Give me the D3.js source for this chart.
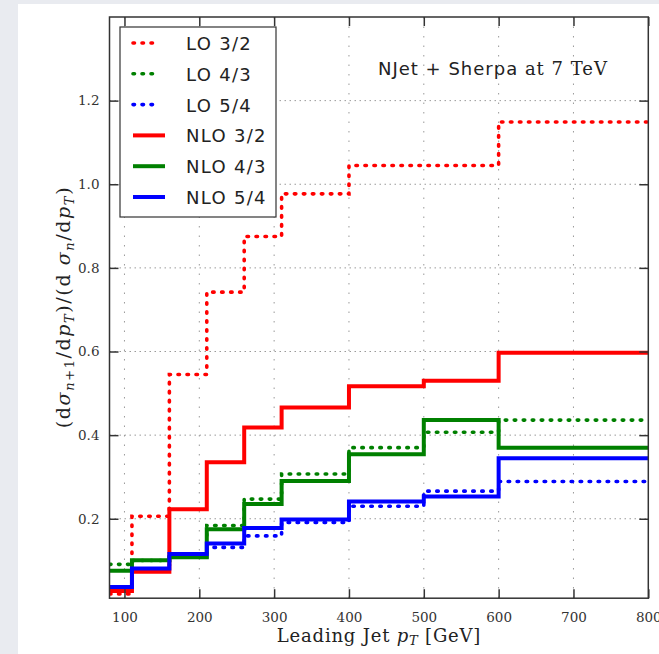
<!DOCTYPE html>
<html>
<head>
<meta charset="utf-8">
<script src="https://cdnjs.cloudflare.com/ajax/libs/d3/7.8.5/d3.min.js"></script>
<style>
  body { margin: 0; background: #e9ebf0; }
  svg { display: block; }
</style>
</head>
<body>
<script>
// bin edges in leading jet pT (GeV)
const edges = [80, 110, 160, 210, 260, 310, 400, 500, 600, 800];
// ratios per bin
const lo32  = [0.020, 0.206, 0.545, 0.742, 0.875, 0.977, 1.045, 1.045, 1.149];
const lo43  = [0.091, 0.100, 0.108, 0.184, 0.247, 0.307, 0.370, 0.407, 0.436];
const lo54  = [0.037, 0.080, 0.109, 0.1315, 0.159, 0.191, 0.230, 0.266, 0.289];
const nlo32 = [0.027, 0.073, 0.223, 0.335, 0.418, 0.466, 0.517, 0.530, 0.597];
const nlo43 = [0.0756, 0.101, 0.108, 0.175, 0.235, 0.290, 0.354, 0.436, 0.370];
const nlo54 = [0.037, 0.081, 0.1155, 0.141, 0.178, 0.1985, 0.241, 0.253, 0.345];

const xTicks = [100, 200, 300, 400, 500, 600, 700, 800];
const yTicks = [0.2, 0.4, 0.6, 0.8, 1.0, 1.2];

const series = [
  {name: "LO 3/2",  vals: lo32,  color: "#ff0000", dotted: true},
  {name: "LO 4/3",  vals: lo43,  color: "#008000", dotted: true},
  {name: "LO 5/4",  vals: lo54,  color: "#0000ff", dotted: true},
  {name: "NLO 3/2", vals: nlo32, color: "#ff0000", dotted: false},
  {name: "NLO 4/3", vals: nlo43, color: "#008000", dotted: false},
  {name: "NLO 5/4", vals: nlo54, color: "#0000ff", dotted: false}
];

let svgWidth = 659, svgHeight = 654;
let plotL = 109.5, plotR = 648.3, plotT = 17, plotB = 598.2;

var svg = d3.select("body").append("svg")
  .attr("width", svgWidth)
  .attr("height", svgHeight);

// white panel
svg.append("rect")
  .attr("x", 18).attr("y", 4)
  .attr("width", svgWidth - 18).attr("height", svgHeight - 4)
  .attr("fill", "#ffffff");

var x = d3.scaleLinear().domain([80, 800]).range([plotL, plotR]);
var y = d3.scaleLinear().domain([0.01, 1.4]).range([plotB, plotT]);

svg.append("clipPath").attr("id", "clip")
  .append("rect")
  .attr("x", plotL).attr("y", plotT)
  .attr("width", plotR - plotL).attr("height", plotB - plotT);

// grid
svg.append("g").selectAll("line")
  .data(xTicks.filter(d => d < 800))
  .enter().append("line")
  .attr("x1", d => x(d)).attr("x2", d => x(d))
  .attr("y1", plotT).attr("y2", plotB)
  .attr("stroke", "#9a9a9a").attr("stroke-width", 1)
  .attr("stroke-dasharray", "1.5,8");

svg.append("g").selectAll("line")
  .data(yTicks)
  .enter().append("line")
  .attr("x1", plotL).attr("x2", plotR)
  .attr("y1", d => y(d)).attr("y2", d => y(d))
  .attr("stroke", "#9a9a9a").attr("stroke-width", 1)
  .attr("stroke-dasharray", "1.5,3.5");

// step lines
var stepLine = d3.line()
  .x(d => x(d[0]))
  .y(d => y(d[1]))
  .curve(d3.curveStepAfter);

var lines = svg.append("g").attr("clip-path", "url(#clip)");
series.forEach(function(s) {
  var pts = edges.map((e, i) => [e, s.vals[Math.min(i, s.vals.length - 1)]]);
  lines.append("path")
    .datum(pts)
    .attr("d", stepLine)
    .attr("fill", "none")
    .attr("stroke", s.color)
    .attr("stroke-width", s.dotted ? 3.6 : 4)
    .attr("stroke-linecap", s.dotted ? "round" : "butt")
    .attr("stroke-dasharray", s.dotted ? "1.5,7.5" : null);
});

// frame
svg.append("rect")
  .attr("x", plotL).attr("y", plotT)
  .attr("width", plotR - plotL).attr("height", plotB - plotT)
  .attr("fill", "none").attr("stroke", "#333").attr("stroke-width", 1.5);

// ticks (inside, all four sides)
var bottomAxis = d3.axisBottom(x).tickValues(xTicks).tickSize(-9).tickPadding(14);
var topAxis = d3.axisTop(x).tickValues(xTicks).tickSize(-9).tickFormat("");
var leftAxis = d3.axisLeft(y).tickValues(yTicks).tickSize(-9).tickPadding(10).tickFormat(d3.format(".1f"));
var rightAxis = d3.axisRight(y).tickValues(yTicks).tickSize(-9).tickFormat("");

function styleAxis(g) {
  g.select(".domain").remove();
  g.selectAll(".tick line").attr("stroke", "#333").attr("stroke-width", 1.5);
  g.selectAll(".tick text")
    .attr("fill", "#333")
    .attr("font-family", "DejaVu Serif, serif")
    .attr("font-size", "13.5px");
}

svg.append("g").attr("transform", `translate(0,${plotB})`).call(bottomAxis).call(styleAxis);
svg.append("g").attr("transform", `translate(0,${plotT})`).call(topAxis).call(styleAxis);
svg.append("g").attr("transform", `translate(${plotL},0)`).call(leftAxis).call(styleAxis);
svg.append("g").attr("transform", `translate(${plotR},0)`).call(rightAxis).call(styleAxis);

// legend
var legend = svg.append("g");
legend.append("rect")
  .attr("x", 120).attr("y", 27)
  .attr("width", 156).attr("height", 190)
  .attr("fill", "#fff").attr("stroke", "#333").attr("stroke-width", 1.2);

var rowY = d3.scalePoint().domain(series.map(s => s.name)).range([43, 197]);
series.forEach(function(s) {
  legend.append("line")
    .attr("x1", 133).attr("x2", s.dotted ? 160 : 165)
    .attr("y1", rowY(s.name)).attr("y2", rowY(s.name))
    .attr("stroke", s.color)
    .attr("stroke-width", s.dotted ? 3.6 : 4)
    .attr("stroke-linecap", s.dotted ? "round" : "butt")
    .attr("stroke-dasharray", s.dotted ? "1.5,7.5" : null);
  legend.append("text")
    .attr("x", 186).attr("y", rowY(s.name) + 7)
    .attr("font-family", "DejaVu Sans, sans-serif")
    .attr("font-size", "18px")
    .attr("letter-spacing", "1.3px")
    .attr("fill", "#222")
    .text(s.name);
});

// annotation
var note = svg.append("text")
  .attr("x", 493).attr("y", 75)
  .attr("text-anchor", "middle")
  .attr("fill", "#222")
  .attr("font-size", "18px")
  .attr("letter-spacing", "1px");
note.append("tspan").attr("font-family", "DejaVu Sans, sans-serif").text("NJet + Sherpa ");
note.append("tspan").attr("font-family", "DejaVu Serif, serif").text("at 7 TeV");

// x label
var xl = svg.append("text")
  .attr("x", 379).attr("y", 642)
  .attr("text-anchor", "middle")
  .attr("fill", "#222")
  .attr("font-family", "DejaVu Serif, serif")
  .attr("font-size", "18px")
  .attr("letter-spacing", "0.8px");
xl.append("tspan").text("Leading Jet ");
xl.append("tspan").attr("font-style", "italic").text("p");
xl.append("tspan").attr("font-style", "italic").attr("font-size", "13px").attr("dy", 3).text("T");
xl.append("tspan").attr("dy", -3).text(" [GeV]");

// y label
var yl = svg.append("text")
  .attr("transform", "translate(70,307) rotate(-90)")
  .attr("text-anchor", "middle")
  .attr("fill", "#222")
  .attr("font-family", "DejaVu Serif, serif")
  .attr("font-size", "19px")
  .attr("letter-spacing", "1.6px");
yl.append("tspan").text("(d");
yl.append("tspan").attr("font-style", "italic").text("σ");
yl.append("tspan").attr("font-style", "italic").attr("font-size", "13px").attr("dy", 4).text("n");
yl.append("tspan").attr("font-size", "13px").text("+1");
yl.append("tspan").attr("dy", -4).text("/d");
yl.append("tspan").attr("font-style", "italic").text("p");
yl.append("tspan").attr("font-style", "italic").attr("font-size", "13px").attr("dy", 4).text("T");
yl.append("tspan").attr("dy", -4).text(")/(d ");
yl.append("tspan").attr("font-style", "italic").text("σ");
yl.append("tspan").attr("font-style", "italic").attr("font-size", "13px").attr("dy", 4).text("n");
yl.append("tspan").attr("dy", -4).text("/d");
yl.append("tspan").attr("font-style", "italic").text("p");
yl.append("tspan").attr("font-style", "italic").attr("font-size", "13px").attr("dy", 4).text("T");
yl.append("tspan").attr("dy", -4).text(")");
</script>
</body>
</html>
